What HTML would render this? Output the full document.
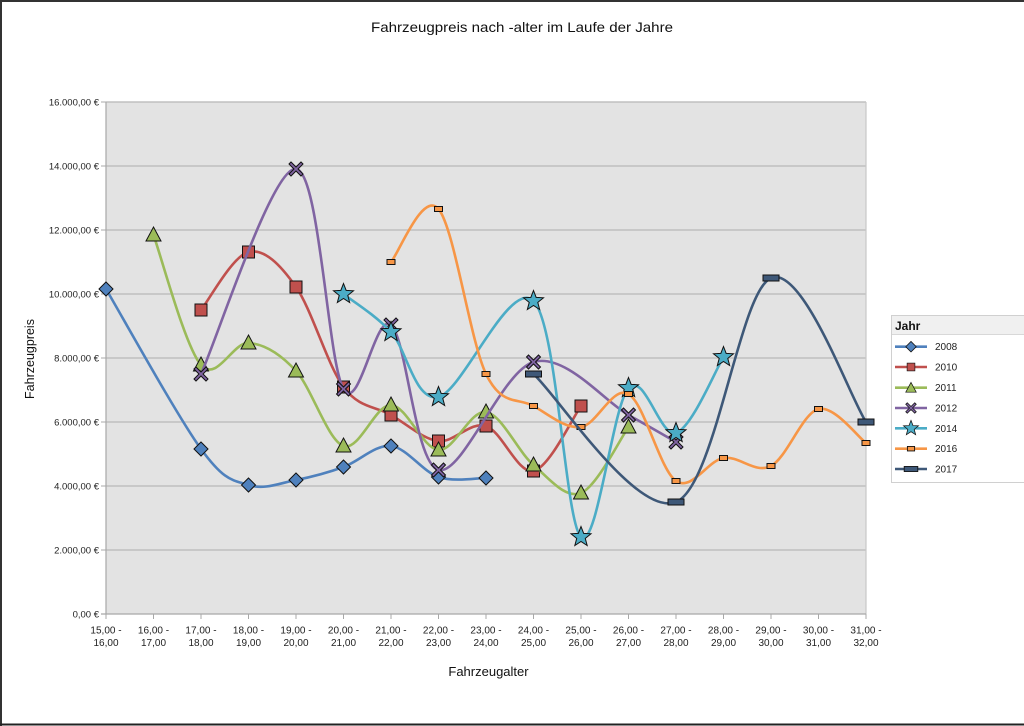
<!DOCTYPE html>
<html>
<head>
<meta charset="utf-8">
<style>
html,body{margin:0;padding:0;background:#fff;}
svg{display:block;font-family:"Liberation Sans",sans-serif;}
</style>
</head>
<body>
<svg width="1024" height="726" viewBox="0 0 1024 726" xmlns="http://www.w3.org/2000/svg">
<defs>
  <polygon id="dia" points="0,-7 7,0 0,7 -7,0" fill="#4F81BD" stroke="#111" stroke-width="1"/>
  <rect id="sq" x="-6" y="-6" width="12" height="12" fill="#C0504D" stroke="#111" stroke-width="1"/>
  <polygon id="tri" points="0,-8 7.5,6 -7.5,6" fill="#9BBB59" stroke="#111" stroke-width="1"/>
  <polygon id="xx" points="-7,-5 -5,-7 0,-2 5,-7 7,-5 2,0 7,5 5,7 0,2 -5,7 -7,5 -2,0" fill="#8064A2" stroke="#111" stroke-width="1"/>
  <polygon id="star" points="0,-10.5 2.65,-3.64 9.99,-3.24 4.28,1.39 6.17,8.49 0,4.5 -6.17,8.49 -4.28,1.39 -9.99,-3.24 -2.65,-3.64" fill="#4BACC6" stroke="#111" stroke-width="1"/>
  <rect id="sm" x="-4" y="-2.5" width="8" height="5" fill="#F79646" stroke="#111" stroke-width="1"/>
  <rect id="wd" x="-8" y="-3" width="16" height="6" fill="#3E5878" stroke="#111" stroke-width="1"/>
</defs>

<!-- page border -->
<rect x="0" y="0" width="1024" height="726" fill="#fff"/>
<line x1="0" y1="1" x2="1024" y2="1" stroke="#333" stroke-width="2"/>
<line x1="1" y1="0" x2="1" y2="726" stroke="#333" stroke-width="2"/>
<line x1="0" y1="724.5" x2="1024" y2="724.5" stroke="#222" stroke-width="2"/>

<!-- title -->
<text x="522" y="32" font-size="14" text-anchor="middle" fill="#111" textLength="302" lengthAdjust="spacingAndGlyphs">Fahrzeugpreis nach -alter im Laufe der Jahre</text>

<!-- plot area -->
<rect x="106" y="102" width="760" height="512" fill="#E3E3E3"/>
<g stroke="#C0C0C0" stroke-width="1.5">
  <line x1="106" y1="102" x2="866" y2="102"/>
  <line x1="106" y1="166" x2="866" y2="166"/>
  <line x1="106" y1="230" x2="866" y2="230"/>
  <line x1="106" y1="294" x2="866" y2="294"/>
  <line x1="106" y1="358" x2="866" y2="358"/>
  <line x1="106" y1="422" x2="866" y2="422"/>
  <line x1="106" y1="486" x2="866" y2="486"/>
  <line x1="106" y1="550" x2="866" y2="550"/>
</g>
<line x1="866" y1="102" x2="866" y2="614" stroke="#C8C8C8" stroke-width="1.2"/>
<line x1="106" y1="102" x2="106" y2="614" stroke="#A8A8A8" stroke-width="1.2"/>
<line x1="101" y1="614" x2="866" y2="614" stroke="#A8A8A8" stroke-width="1.2"/>
<g stroke="#A8A8A8" stroke-width="1">
  <line x1="101" y1="102" x2="106" y2="102"/><line x1="101" y1="166" x2="106" y2="166"/>
  <line x1="101" y1="230" x2="106" y2="230"/><line x1="101" y1="294" x2="106" y2="294"/>
  <line x1="101" y1="358" x2="106" y2="358"/><line x1="101" y1="422" x2="106" y2="422"/>
  <line x1="101" y1="486" x2="106" y2="486"/><line x1="101" y1="550" x2="106" y2="550"/>
  <line x1="106" y1="614" x2="106" y2="619"/><line x1="153.5" y1="614" x2="153.5" y2="619"/>
  <line x1="201" y1="614" x2="201" y2="619"/><line x1="248.5" y1="614" x2="248.5" y2="619"/>
  <line x1="296" y1="614" x2="296" y2="619"/><line x1="343.5" y1="614" x2="343.5" y2="619"/>
  <line x1="391" y1="614" x2="391" y2="619"/><line x1="438.5" y1="614" x2="438.5" y2="619"/>
  <line x1="486" y1="614" x2="486" y2="619"/><line x1="533.5" y1="614" x2="533.5" y2="619"/>
  <line x1="581" y1="614" x2="581" y2="619"/><line x1="628.5" y1="614" x2="628.5" y2="619"/>
  <line x1="676" y1="614" x2="676" y2="619"/><line x1="723.5" y1="614" x2="723.5" y2="619"/>
  <line x1="771" y1="614" x2="771" y2="619"/><line x1="818.5" y1="614" x2="818.5" y2="619"/>
  <line x1="866" y1="614" x2="866" y2="619"/>
</g>

<!-- y tick labels -->
<g font-size="9.5" text-anchor="end" fill="#222">
  <text x="99" y="105.5">16.000,00 €</text>
  <text x="99" y="169.5">14.000,00 €</text>
  <text x="99" y="233.5">12.000,00 €</text>
  <text x="99" y="297.5">10.000,00 €</text>
  <text x="99" y="361.5">8.000,00 €</text>
  <text x="99" y="425.5">6.000,00 €</text>
  <text x="99" y="489.5">4.000,00 €</text>
  <text x="99" y="553.5">2.000,00 €</text>
  <text x="99" y="617.5">0,00 €</text>
</g>

<!-- x tick labels -->
<g font-size="10" text-anchor="middle" fill="#222">
  <text x="106" y="633.5">15,00 -</text><text x="106" y="646">16,00</text>
  <text x="153.5" y="633.5">16,00 -</text><text x="153.5" y="646">17,00</text>
  <text x="201" y="633.5">17,00 -</text><text x="201" y="646">18,00</text>
  <text x="248.5" y="633.5">18,00 -</text><text x="248.5" y="646">19,00</text>
  <text x="296" y="633.5">19,00 -</text><text x="296" y="646">20,00</text>
  <text x="343.5" y="633.5">20,00 -</text><text x="343.5" y="646">21,00</text>
  <text x="391" y="633.5">21,00 -</text><text x="391" y="646">22,00</text>
  <text x="438.5" y="633.5">22,00 -</text><text x="438.5" y="646">23,00</text>
  <text x="486" y="633.5">23,00 -</text><text x="486" y="646">24,00</text>
  <text x="533.5" y="633.5">24,00 -</text><text x="533.5" y="646">25,00</text>
  <text x="581" y="633.5">25,00 -</text><text x="581" y="646">26,00</text>
  <text x="628.5" y="633.5">26,00 -</text><text x="628.5" y="646">27,00</text>
  <text x="676" y="633.5">27,00 -</text><text x="676" y="646">28,00</text>
  <text x="723.5" y="633.5">28,00 -</text><text x="723.5" y="646">29,00</text>
  <text x="771" y="633.5">29,00 -</text><text x="771" y="646">30,00</text>
  <text x="818.5" y="633.5">30,00 -</text><text x="818.5" y="646">31,00</text>
  <text x="866" y="633.5">31,00 -</text><text x="866" y="646">32,00</text>
</g>

<!-- axis titles -->
<text x="488.5" y="676" font-size="13" text-anchor="middle" fill="#111">Fahrzeugalter</text>
<text transform="translate(34,359) rotate(-90)" font-size="12.5" text-anchor="middle" fill="#111">Fahrzeugpreis</text>

<!-- series 2008 -->
<path d="M106,289 C121.8,315.7 177.3,416.3 201,449 C224.8,481.7 232.7,479.8 248.5,485 C264.3,490.2 280.2,483 296,480 C311.8,477 327.7,472.7 343.5,467 C359.3,461.3 375.2,444.3 391,446 C406.8,447.7 422.7,471.7 438.5,477 C454.3,482.3 478.1,477.8 486,478" fill="none" stroke="#4F81BD" stroke-width="2.6" stroke-linejoin="round"/>
<use href="#dia" x="106" y="289"/><use href="#dia" x="201" y="449"/><use href="#dia" x="248.5" y="485"/><use href="#dia" x="296" y="480"/><use href="#dia" x="343.5" y="467"/><use href="#dia" x="391" y="446"/><use href="#dia" x="438.5" y="477"/><use href="#dia" x="486" y="478"/>

<!-- series 2010 -->
<path d="M201,310 C208.9,300.3 232.7,255.8 248.5,252 C264.3,248.2 280.2,264.5 296,287 C311.8,309.5 327.7,365.7 343.5,387 C359.3,408.3 375.2,406 391,415 C406.8,424 422.7,439.2 438.5,441 C454.3,442.8 470.2,421 486,426 C501.8,431 517.7,474.3 533.5,471 C549.3,467.7 573.1,416.8 581,406" fill="none" stroke="#C0504D" stroke-width="2.6" stroke-linejoin="round"/>
<use href="#sq" x="201" y="310"/><use href="#sq" x="248.5" y="252"/><use href="#sq" x="296" y="287"/><use href="#sq" x="343.5" y="387"/><use href="#sq" x="391" y="415"/><use href="#sq" x="438.5" y="441"/><use href="#sq" x="486" y="426"/><use href="#sq" x="533.5" y="471"/><use href="#sq" x="581" y="406"/>

<!-- series 2011 -->
<path d="M153.5,235 C161.4,256.7 185.2,347 201,365 C216.8,383 232.7,342 248.5,343 C264.3,344 280.2,353.8 296,371 C311.8,388.2 327.7,440.3 343.5,446 C359.3,451.7 375.2,404.3 391,405 C406.8,405.7 422.7,448.8 438.5,450 C454.3,451.2 470.2,409.5 486,412 C501.8,414.5 517.7,451.5 533.5,465 C549.3,478.5 565.2,499.3 581,493 C596.8,486.7 620.6,438 628.5,427" fill="none" stroke="#9BBB59" stroke-width="2.6" stroke-linejoin="round"/>
<use href="#tri" x="153.5" y="235"/><use href="#tri" x="201" y="365"/><use href="#tri" x="248.5" y="343"/><use href="#tri" x="296" y="371"/><use href="#tri" x="343.5" y="446"/><use href="#tri" x="391" y="405"/><use href="#tri" x="438.5" y="450"/><use href="#tri" x="486" y="412"/><use href="#tri" x="533.5" y="465"/><use href="#tri" x="581" y="493"/><use href="#tri" x="628.5" y="427"/>

<!-- series 2012 -->
<path d="M201,374 C216.8,339.8 272.3,166.5 296,169 C319.8,171.5 327.7,363 343.5,389 C359.3,415 375.2,311.5 391,325 C406.8,338.5 414.8,463.8 438.5,470 C462.3,476.2 501.8,371.2 533.5,362 C565.2,352.8 604.8,401.7 628.5,415 C652.3,428.3 668.1,437.5 676,442" fill="none" stroke="#8064A2" stroke-width="2.6" stroke-linejoin="round"/>
<use href="#xx" x="201" y="374"/><use href="#xx" x="296" y="169"/><use href="#xx" x="343.5" y="389"/><use href="#xx" x="391" y="325"/><use href="#xx" x="438.5" y="470"/><use href="#xx" x="533.5" y="362"/><use href="#xx" x="628.5" y="415"/><use href="#xx" x="676" y="442"/>

<!-- series 2014 -->
<path d="M343.5,294 C351.4,300.3 375.2,314.8 391,332 C406.8,349.2 414.8,402.2 438.5,397 C462.3,391.8 509.8,277.7 533.5,301 C557.3,324.3 565.2,522.5 581,537 C596.8,551.5 612.7,405.3 628.5,388 C644.3,370.7 660.2,438.2 676,433 C691.8,427.8 715.6,369.7 723.5,357" fill="none" stroke="#4BACC6" stroke-width="2.6" stroke-linejoin="round"/>
<use href="#star" x="343.5" y="294"/><use href="#star" x="391" y="332"/><use href="#star" x="438.5" y="397"/><use href="#star" x="533.5" y="301"/><use href="#star" x="581" y="537"/><use href="#star" x="628.5" y="388"/><use href="#star" x="676" y="433"/><use href="#star" x="723.5" y="357"/>

<!-- series 2016 -->
<path d="M391,262 C398.9,253.2 422.7,190.3 438.5,209 C454.3,227.7 470.2,341.2 486,374 C501.8,406.8 517.7,397.2 533.5,406 C549.3,414.8 565.2,429 581,427 C596.8,425 612.7,385 628.5,394 C644.3,403 660.2,470.3 676,481 C691.8,491.7 707.7,460.5 723.5,458 C739.3,455.5 755.2,474.2 771,466 C786.8,457.8 802.7,412.8 818.5,409 C834.3,405.2 858.1,437.3 866,443" fill="none" stroke="#F79646" stroke-width="2.6" stroke-linejoin="round"/>
<use href="#sm" x="391" y="262"/><use href="#sm" x="438.5" y="209"/><use href="#sm" x="486" y="374"/><use href="#sm" x="533.5" y="406"/><use href="#sm" x="581" y="427"/><use href="#sm" x="628.5" y="394"/><use href="#sm" x="676" y="481"/><use href="#sm" x="723.5" y="458"/><use href="#sm" x="771" y="466"/><use href="#sm" x="818.5" y="409"/><use href="#sm" x="866" y="443"/>

<!-- series 2017 -->
<path d="M533.5,374 C557.3,395.3 636.4,518 676,502 C715.6,486 739.3,291.3 771,278 C802.7,264.7 850.2,398 866,422" fill="none" stroke="#3E5878" stroke-width="2.6" stroke-linejoin="round"/>
<use href="#wd" x="533.5" y="374"/><use href="#wd" x="676" y="502"/><use href="#wd" x="771" y="278"/><use href="#wd" x="866" y="422"/>

<!-- legend -->
<rect x="891.5" y="315.5" width="140" height="167" fill="#fff" stroke="#D0D0D0" stroke-width="1"/>
<rect x="892" y="316" width="140" height="18" fill="#F0F0F0"/>
<line x1="892" y1="334.5" x2="1024" y2="334.5" stroke="#D8D8D8" stroke-width="1"/>
<text x="895" y="330" font-size="12" font-weight="bold" fill="#111">Jahr</text>
<g stroke-width="2.6">
  <line x1="895" y1="346.7" x2="927" y2="346.7" stroke="#4F81BD"/>
  <line x1="895" y1="367" x2="927" y2="367" stroke="#C0504D"/>
  <line x1="895" y1="387.7" x2="927" y2="387.7" stroke="#9BBB59"/>
  <line x1="895" y1="408" x2="927" y2="408" stroke="#8064A2"/>
  <line x1="895" y1="428.3" x2="927" y2="428.3" stroke="#4BACC6"/>
  <line x1="895" y1="448.7" x2="927" y2="448.7" stroke="#F79646"/>
  <line x1="895" y1="469" x2="927" y2="469" stroke="#3E5878"/>
</g>
<g transform="translate(911,346.7) scale(0.75)"><use href="#dia"/></g>
<g transform="translate(911,367) scale(0.65)"><use href="#sq"/></g>
<g transform="translate(911,388) scale(0.7)"><use href="#tri"/></g>
<g transform="translate(911,408) scale(0.75)"><use href="#xx"/></g>
<g transform="translate(911,428.3) scale(0.75)"><use href="#star"/></g>
<g transform="translate(911,448.7) scale(0.9)"><use href="#sm"/></g>
<g transform="translate(911,469) scale(0.85)"><use href="#wd"/></g>
<g font-size="10" fill="#222">
  <text x="935" y="350.2">2008</text>
  <text x="935" y="370.5">2010</text>
  <text x="935" y="391.2">2011</text>
  <text x="935" y="411.5">2012</text>
  <text x="935" y="431.8">2014</text>
  <text x="935" y="452.2">2016</text>
  <text x="935" y="472.5">2017</text>
</g>
</svg>
</body>
</html>
